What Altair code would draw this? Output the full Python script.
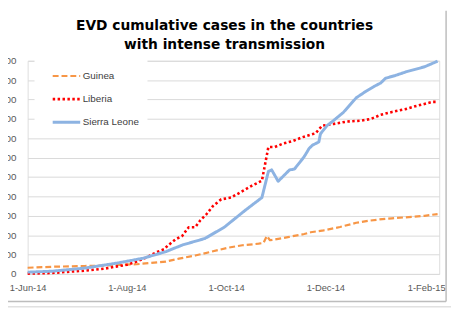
import altair as alt
import pandas as pd

countries = ["Guinea", "Liberia", "Sierra Leone"]

guinea_dates = ["2014-06-01", "2014-06-16", "2014-07-06", "2014-07-18", "2014-07-26",
                "2014-08-07", "2014-08-15", "2014-08-25", "2014-09-02", "2014-09-12",
                "2014-09-22", "2014-10-02", "2014-10-11", "2014-10-21", "2014-10-24",
                "2014-10-26", "2014-10-28", "2014-11-08", "2014-11-18", "2014-11-22",
                "2014-11-30", "2014-12-10", "2014-12-20", "2014-12-28", "2015-01-05",
                "2015-01-11", "2015-01-19", "2015-01-31", "2015-02-08"]
guinea_cases = [320, 370, 410, 430, 460,
                500, 560, 640, 790, 950,
                1150, 1350, 1480, 1560, 1600,
                1960, 1740, 1900, 2060, 2150,
                2250, 2420, 2640, 2750, 2830,
                2870, 2920, 3000, 3090]

liberia_dates = ["2014-06-01", "2014-06-16", "2014-07-06", "2014-07-18", "2014-07-26",
                 "2014-08-01", "2014-08-07", "2014-08-13", "2014-08-19", "2014-08-24",
                 "2014-08-26", "2014-08-31", "2014-09-04", "2014-09-08", "2014-09-12",
                 "2014-09-15", "2014-09-19", "2014-09-23", "2014-09-28", "2014-10-04",
                 "2014-10-11", "2014-10-17", "2014-10-23", "2014-10-27", "2014-10-31",
                 "2014-11-05", "2014-11-11", "2014-11-17", "2014-11-25", "2014-11-29",
                 "2014-12-06", "2014-12-14", "2014-12-23", "2014-12-29", "2015-01-04",
                 "2015-01-11", "2015-01-19", "2015-01-26", "2015-02-05", "2015-02-08"]
liberia_cases = [15, 50, 170, 270, 390,
                 470, 640, 850, 1115, 1280,
                 1450, 1790, 1960, 2410, 2410,
                 2750, 3090, 3510, 3850, 3940,
                 4270, 4560, 4810, 6550, 6550,
                 6730, 6860, 7060, 7260, 7650,
                 7740, 7860, 7910, 8000, 8210,
                 8360, 8500, 8670, 8880, 8880]

sierra_dates = ["2014-06-01", "2014-06-16", "2014-07-06", "2014-07-26", "2014-08-11",
                "2014-08-25", "2014-09-04", "2014-09-18", "2014-09-30", "2014-10-13",
                "2014-10-23", "2014-10-27", "2014-10-29", "2014-11-02", "2014-11-09",
                "2014-11-12", "2014-11-18", "2014-11-21", "2014-11-23", "2014-11-27",
                "2014-11-28", "2014-12-02", "2014-12-06", "2014-12-12", "2014-12-20",
                "2014-12-26", "2014-12-31", "2015-01-04", "2015-01-07", "2015-01-13",
                "2015-01-20", "2015-01-31", "2015-02-08"]
sierra_cases = [90, 140, 300, 560, 810,
                1150, 1490, 1830, 2420, 3300,
                3940, 5290, 5370, 4780, 5370,
                5410, 6050, 6470, 6640, 6810,
                7230, 7650, 7910, 8330, 9090,
                9430, 9680, 9850, 10100, 10240,
                10440, 10690, 10980]

y_ticks = list(range(0, 12000, 1000))
title_lines = ["EVD cumulative cases in the countries", "with intense transmission"]

rows = []
for name, ds, vs in [(countries[0], guinea_dates, guinea_cases),
                     (countries[1], liberia_dates, liberia_cases),
                     (countries[2], sierra_dates, sierra_cases)]:
    for d, v in zip(ds, vs):
        rows.append({"country": name, "date": d + "T00:00:00", "cases": v})
df = pd.DataFrame(rows)

x_ticks = [alt.DateTime(year=2014, month=6, date=1), alt.DateTime(year=2014, month=8, date=1),
           alt.DateTime(year=2014, month=10, date=1), alt.DateTime(year=2014, month=12, date=1),
           alt.DateTime(year=2015, month=2, date=1)]

lines = alt.Chart(df).mark_line(strokeJoin="round").encode(
    x=alt.X("date:T",
            scale=alt.Scale(domain=[alt.DateTime(year=2014, month=6, date=1),
                                    alt.DateTime(year=2015, month=2, date=9)]),
            axis=alt.Axis(values=x_ticks, format="%-d-%b-%y", title=None, grid=False,
                          domain=False, ticks=False, labelPadding=9, labelFontSize=9.5,
                          labelFlush=False,
                          labelFont="Liberation Sans", labelColor="#595959")),
    y=alt.Y("cases:Q", scale=alt.Scale(domain=[0, 11000], nice=False),
            axis=alt.Axis(values=y_ticks, title=None, domain=False, ticks=False,
                          labelPadding=12, labelFontSize=10, labelFont="Liberation Sans",
                          labelColor="#595959", gridColor="#d9d9d9", gridWidth=1)),
    color=alt.Color("country:N",
                    scale=alt.Scale(domain=countries, range=["#F79646", "#FF0000", "#8DB3E2"]),
                    legend=alt.Legend(title=None, orient="none", legendX=7, legendY=-8,
                                      symbolType="stroke", symbolSize=784, fillColor="white",
                                      padding=8, symbolOffset=9, labelOffset=1, rowPadding=2.5,
                                      labelFont="Liberation Sans", labelFontSize=10,
                                      labelColor="#404040")),
    strokeDash=alt.StrokeDash("country:N",
                              scale=alt.Scale(domain=countries,
                                              range=[[6, 3], [2.5, 2.5], [1, 0]]),
                              legend=None),
    strokeWidth=alt.StrokeWidth("country:N",
                                scale=alt.Scale(domain=countries, range=[2.25, 3, 2]),
                                legend=None),
)

frame_data = pd.DataFrame({"k": [0]})
right_border = alt.Chart(frame_data).mark_rule(color="#bdbdbd", strokeWidth=1.5).encode(
    x=alt.value(426), y=alt.value(-51), y2=alt.value(245))
bottom_border = alt.Chart(frame_data).mark_rule(color="#bdbdbd", strokeWidth=1.5).encode(
    x=alt.value(-20), x2=alt.value(426), y=alt.value(245))
bottom_border2 = alt.Chart(frame_data).mark_rule(color="#d0d0d0", strokeWidth=1).encode(
    x=alt.value(-20), x2=alt.value(431), y=alt.value(250.5))

chart = alt.layer(lines, right_border, bottom_border, bottom_border2).properties(
    width=419, height=217,
    title=alt.TitleParams(text=title_lines, font="DejaVu Sans", fontSize=14,
                          fontWeight="bold", color="#000000", anchor="middle",
                          frame="group", dx=-9, dy=52, offset=9, lineHeight=20),
    autosize=alt.AutoSizeParams(type="none"),
    padding={"left": 20, "top": 51, "right": 12, "bottom": 35},
).configure_view(stroke="#d9d9d9").configure(background="white")

chart.save("out.html", embed_options={"renderer": "svg", "actions": False})
